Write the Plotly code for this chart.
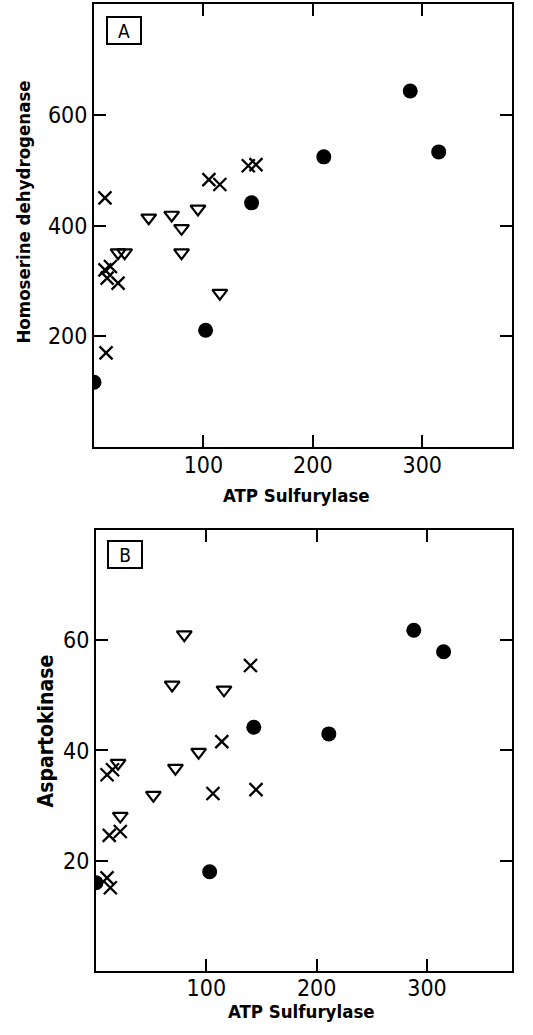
import plotly.graph_objects as go

# ---------------- Data ----------------
# Panel A: Homoserine dehydrogenase vs ATP sulfurylase
a_dot_x = [0, 102, 144, 210, 289, 315]
a_dot_y = [117, 211, 441, 524, 643, 533]

a_x_x = [10, 10, 15, 12, 22, 11, 105, 115, 141, 148]
a_x_y = [450, 320, 326, 305, 296, 170, 483, 474, 508, 510]

a_tri_x = [22, 28, 50, 71, 80, 80, 95, 115]
a_tri_y = [351, 351, 414, 419, 395, 351, 430, 278]

# Panel B: Aspartokinase vs ATP sulfurylase
b_dot_x = [0, 103, 143, 211, 288, 315]
b_dot_y = [16.0, 18.0, 44.2, 43.0, 61.8, 57.9]

b_x_x = [140, 114, 106, 145, 12, 22, 10, 13, 10, 15]
b_x_y = [55.4, 41.6, 32.2, 32.9, 24.6, 25.3, 16.9, 15.1, 35.6, 36.5]

b_tri_x = [20, 80, 69, 116, 93, 72, 52, 22]
b_tri_y = [37.7, 61.0, 51.9, 51.0, 39.7, 36.8, 31.9, 28.1]

x_ticks = [100, 200, 300]
a_y_ticks = [200, 400, 600]
b_y_ticks = [20, 40, 60]

x_title = "ATP Sulfurylase"
a_y_title = "Homoserine dehydrogenase"
b_y_title = "Aspartokinase"

# ---------------- Figure ----------------
W, H = 533, 1035
ML, MR, MT, MB = 94, 21, 2, 64
PW, PH = W - ML - MR, H - MT - MB

def px_x(px):
    return (px - ML) / PW

def px_y(py):
    return (H - MB - py) / PH

TICKFONT = dict(family="Liberation Sans Narrow, DejaVu Sans Condensed, Arial Narrow, sans-serif",
                size=23, color="black")

def title_font(size):
    return dict(family="DejaVu Sans Condensed, Liberation Sans Narrow, sans-serif",
                size=size, color="black", weight="bold")

dot_style = dict(mode="markers", marker=dict(symbol="circle", size=15, color="black"),
                 showlegend=False, hoverinfo="skip")
x_style = dict(mode="markers",
               marker=dict(symbol="x-thin", size=13, color="black",
                           line=dict(color="black", width=2.3)),
               showlegend=False, hoverinfo="skip")
tri_style = dict(mode="markers",
                 marker=dict(symbol="triangle-down-open", size=13, color="black",
                             line=dict(color="black", width=2.2)),
                 showlegend=False, hoverinfo="skip")

fig = go.Figure()
# Panel A
fig.add_trace(go.Scatter(x=a_tri_x, y=a_tri_y, xaxis="x", yaxis="y", **tri_style))
fig.add_trace(go.Scatter(x=a_x_x, y=a_x_y, xaxis="x", yaxis="y", **x_style))
fig.add_trace(go.Scatter(x=a_dot_x, y=a_dot_y, xaxis="x", yaxis="y", **dot_style))
# Panel B
fig.add_trace(go.Scatter(x=b_tri_x, y=b_tri_y, xaxis="x2", yaxis="y2", **tri_style))
fig.add_trace(go.Scatter(x=b_x_x, y=b_x_y, xaxis="x2", yaxis="y2", **x_style))
fig.add_trace(go.Scatter(x=b_dot_x, y=b_dot_y, xaxis="x2", yaxis="y2", **dot_style))

axis_common = dict(showline=True, linecolor="black", linewidth=2, mirror="allticks",
                   ticks="inside", ticklen=12, tickwidth=2, tickcolor="black",
                   showgrid=False, zeroline=False, tickfont=TICKFONT, fixedrange=True)

a_top, a_bot = 2, 446
b_top, b_bot = 529, 971

fig.update_layout(
    width=W, height=H,
    margin=dict(l=ML, r=MR, t=MT, b=MB),
    paper_bgcolor="white", plot_bgcolor="white",
    xaxis=dict(domain=[0, 1], anchor="y", range=[0, 382], ticklabelstandoff=-4,
               tickvals=x_ticks, **axis_common),
    yaxis=dict(domain=[px_y(a_bot), px_y(a_top)], anchor="x", range=[0, 800],
               tickvals=a_y_ticks, **axis_common),
    xaxis2=dict(domain=[px_x(96), 1], anchor="y2", range=[0, 377], ticklabelstandoff=-5,
                tickvals=x_ticks, **axis_common),
    yaxis2=dict(domain=[0, px_y(b_top)], anchor="x2", range=[0, 80],
                tickvals=b_y_ticks, **axis_common),
)

ann = []
# axis titles
ann.append(dict(text=x_title, x=px_x(296), y=px_y(495), xref="paper", yref="paper",
                showarrow=False, xanchor="center", yanchor="middle", font=title_font(18.5)))
ann.append(dict(text=x_title, x=px_x(301), y=px_y(1012), xref="paper", yref="paper",
                showarrow=False, xanchor="center", yanchor="middle", font=title_font(18.5)))
ann.append(dict(text=a_y_title, x=px_x(24), y=px_y(211), xref="paper", yref="paper",
                showarrow=False, xanchor="center", yanchor="middle", textangle=-90,
                font=title_font(18.5)))
ann.append(dict(text=b_y_title, x=px_x(46), y=px_y(731), xref="paper", yref="paper",
                showarrow=False, xanchor="center", yanchor="middle", textangle=-90,
                font=title_font(21)))
# panel labels
for lab, cx, cy in [("A", 124, 29), ("B", 124.5, 553.5)]:
    ann.append(dict(text=lab, x=px_x(cx), y=px_y(cy), xref="paper", yref="paper",
                    showarrow=False, xanchor="center", yanchor="middle",
                    width=30, height=23, borderpad=1, bordercolor="black", borderwidth=2,
                    bgcolor="white",
                    font=dict(family="Liberation Sans Narrow, DejaVu Sans Condensed, sans-serif",
                              size=19, color="black")))
fig.update_layout(annotations=ann)

fig.write_html("out.html", config={"displayModeBar": False, "staticPlot": True},
               post_script="document.body.style.margin='0';document.body.style.overflow='hidden';")
